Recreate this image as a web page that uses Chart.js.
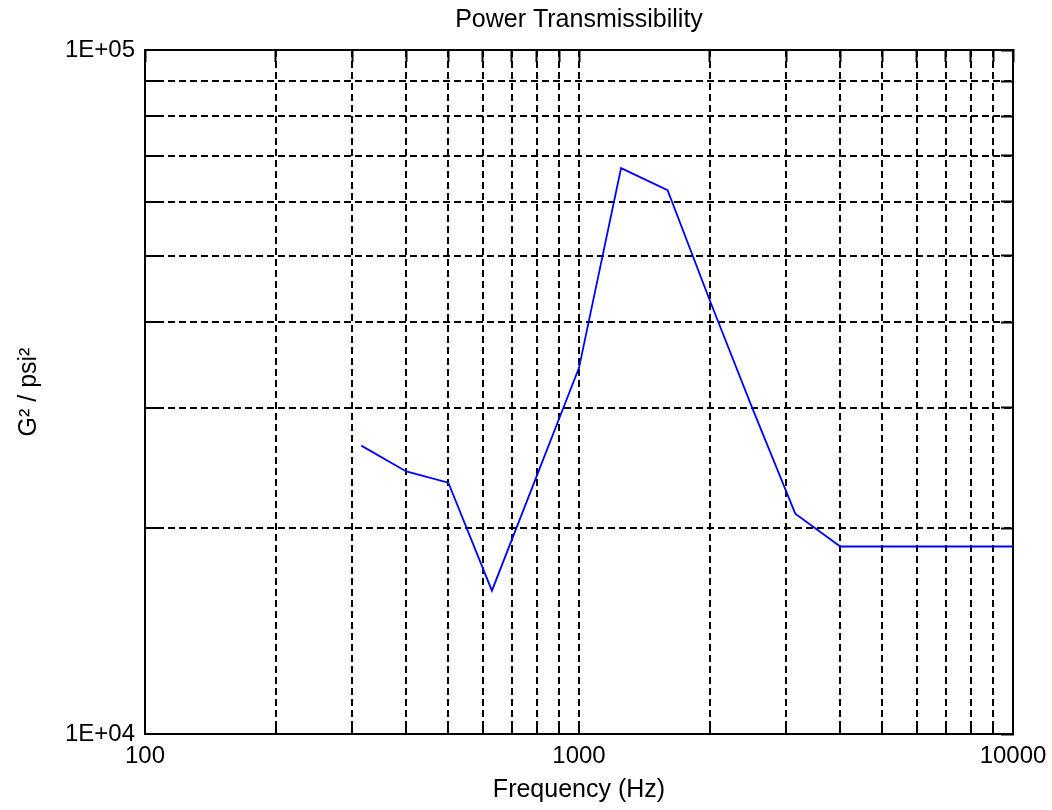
<!DOCTYPE html>
<html>
<head>
<meta charset="utf-8">
<title>Power Transmissibility</title>
<script src="https://cdn.jsdelivr.net/npm/chart.js@4.4.1/dist/chart.umd.min.js"></script>
<style>
  html, body { margin: 0; padding: 0; background: #fff; }
  #wrap { width: 1052px; height: 810px; position: relative; }
</style>
</head>
<body>
<div id="wrap"><canvas id="chart"></canvas></div>
<script>
// --- data ---
const freqs = [315, 400, 500, 630, 1000, 1250, 1600, 2000, 2500, 3150, 4000, 5000, 6300, 8000, 10000];
const values = [26400, 24200, 23300, 16200, 34300, 67200, 62400, 43100, 30100, 21000, 18800, 18800, 18800, 18800, 18800];

// grid / tick positions (log decades + their multiples)
const xTicks = [100, 200, 300, 400, 500, 600, 700, 800, 900, 1000,
  2000, 3000, 4000, 5000, 6000, 7000, 8000, 9000, 10000];
const yTicks = [10000, 20000, 30000, 40000, 50000, 60000, 70000, 80000, 90000, 100000];
const xLabels = { 100: '100', 1000: '1000', 10000: '10000' };
const yLabels = { 10000: '1E+04', 100000: '1E+05' };

const FONT = "'Liberation Sans', Arial, sans-serif";
const INK = '#000';

function setTicks(list) {
  return (scale) => { scale.ticks = list.map(v => ({ value: v })); };
}
// force box size and drop the label overhang padding so the plot frame sits where the reference has it
function fixSize(w, h) {
  return (scale) => {
    if (w != null) scale.width = w;
    if (h != null) scale.height = h;
    scale.paddingLeft = 0;
    scale.paddingRight = 0;
    scale.paddingTop = 0;
    scale.paddingBottom = 0;
  };
}

// shared look for frame axes (top / right)
function frameAxis(position, ticks, size) {
  const horiz = position === 'top' || position === 'bottom';
  return {
    type: 'logarithmic',
    position,
    min: horiz ? 100 : 10000,
    max: horiz ? 10000 : 100000,
    afterBuildTicks: setTicks(ticks),
    afterFit: horiz ? fixSize(null, size) : fixSize(size, null),
    ticks: { display: false, autoSkip: false },
    grid: { drawOnChartArea: false, drawTicks: true, tickLength: -12, tickColor: INK, tickWidth: 2 },
    border: { display: true, color: INK, width: 2 }
  };
}

const topAxis = frameAxis('top', xTicks, 50);
// chart title lives on the top axis so it is centred over the plot, not the canvas
topAxis.title = {
  display: true,
  text: 'Power Transmissibility',
  color: INK,
  font: { family: FONT, size: 25, lineHeight: 1.2 },
  padding: { top: 5, bottom: 0 }
};

const ctx = document.getElementById('chart').getContext('2d');
new Chart(ctx, {
  type: 'line',
  data: {
    datasets: [{
      data: freqs.map((f, i) => ({ x: f, y: values[i] })),
      borderColor: '#0000ff',
      borderWidth: 1.8,
      pointRadius: 0,
      tension: 0,
      fill: false
    }]
  },
  options: {
    responsive: true,
    maintainAspectRatio: false,
    animation: false,
    layout: { padding: 0 },
    plugins: {
      legend: { display: false },
      tooltip: { enabled: false },
      title: { display: false }
    },
    scales: {
      x: {
        type: 'logarithmic',
        position: 'bottom',
        min: 100,
        max: 10000,
        afterBuildTicks: setTicks(xTicks),
        afterFit: fixSize(null, 76),
        ticks: {
          autoSkip: false,
          maxRotation: 0,
          padding: 20,
          color: INK,
          font: { family: FONT, size: 24 },
          callback: (v) => xLabels[v] || ''
        },
        grid: { color: INK, lineWidth: 2, drawTicks: true, tickLength: -12, tickColor: INK, tickWidth: 2 },
        border: { display: true, color: INK, width: 2, dash: [7, 4] },
        title: {
          display: true,
          text: 'Frequency (Hz)',
          color: INK,
          font: { family: FONT, size: 25, lineHeight: 1.2 },
          padding: { top: 0, bottom: 5 }
        }
      },
      y: {
        type: 'logarithmic',
        position: 'left',
        min: 10000,
        max: 100000,
        afterBuildTicks: setTicks(yTicks),
        afterFit: fixSize(145, null),
        ticks: {
          autoSkip: false,
          padding: 22,
          color: INK,
          font: { family: FONT, size: 24 },
          callback: (v) => yLabels[v] || ''
        },
        grid: { color: INK, lineWidth: 2, drawTicks: true, tickLength: -12, tickColor: INK, tickWidth: 2 },
        border: { display: true, color: INK, width: 2, dash: [7, 4] },
        title: {
          display: true,
          text: 'G² / psi²',
          color: INK,
          font: { family: FONT, size: 25, lineHeight: 1.2 },
          padding: { top: 14, bottom: 0 }
        }
      },
      x2: topAxis,
      y2: frameAxis('right', yTicks, 39)
    }
  }
});
</script>
</body>
</html>
